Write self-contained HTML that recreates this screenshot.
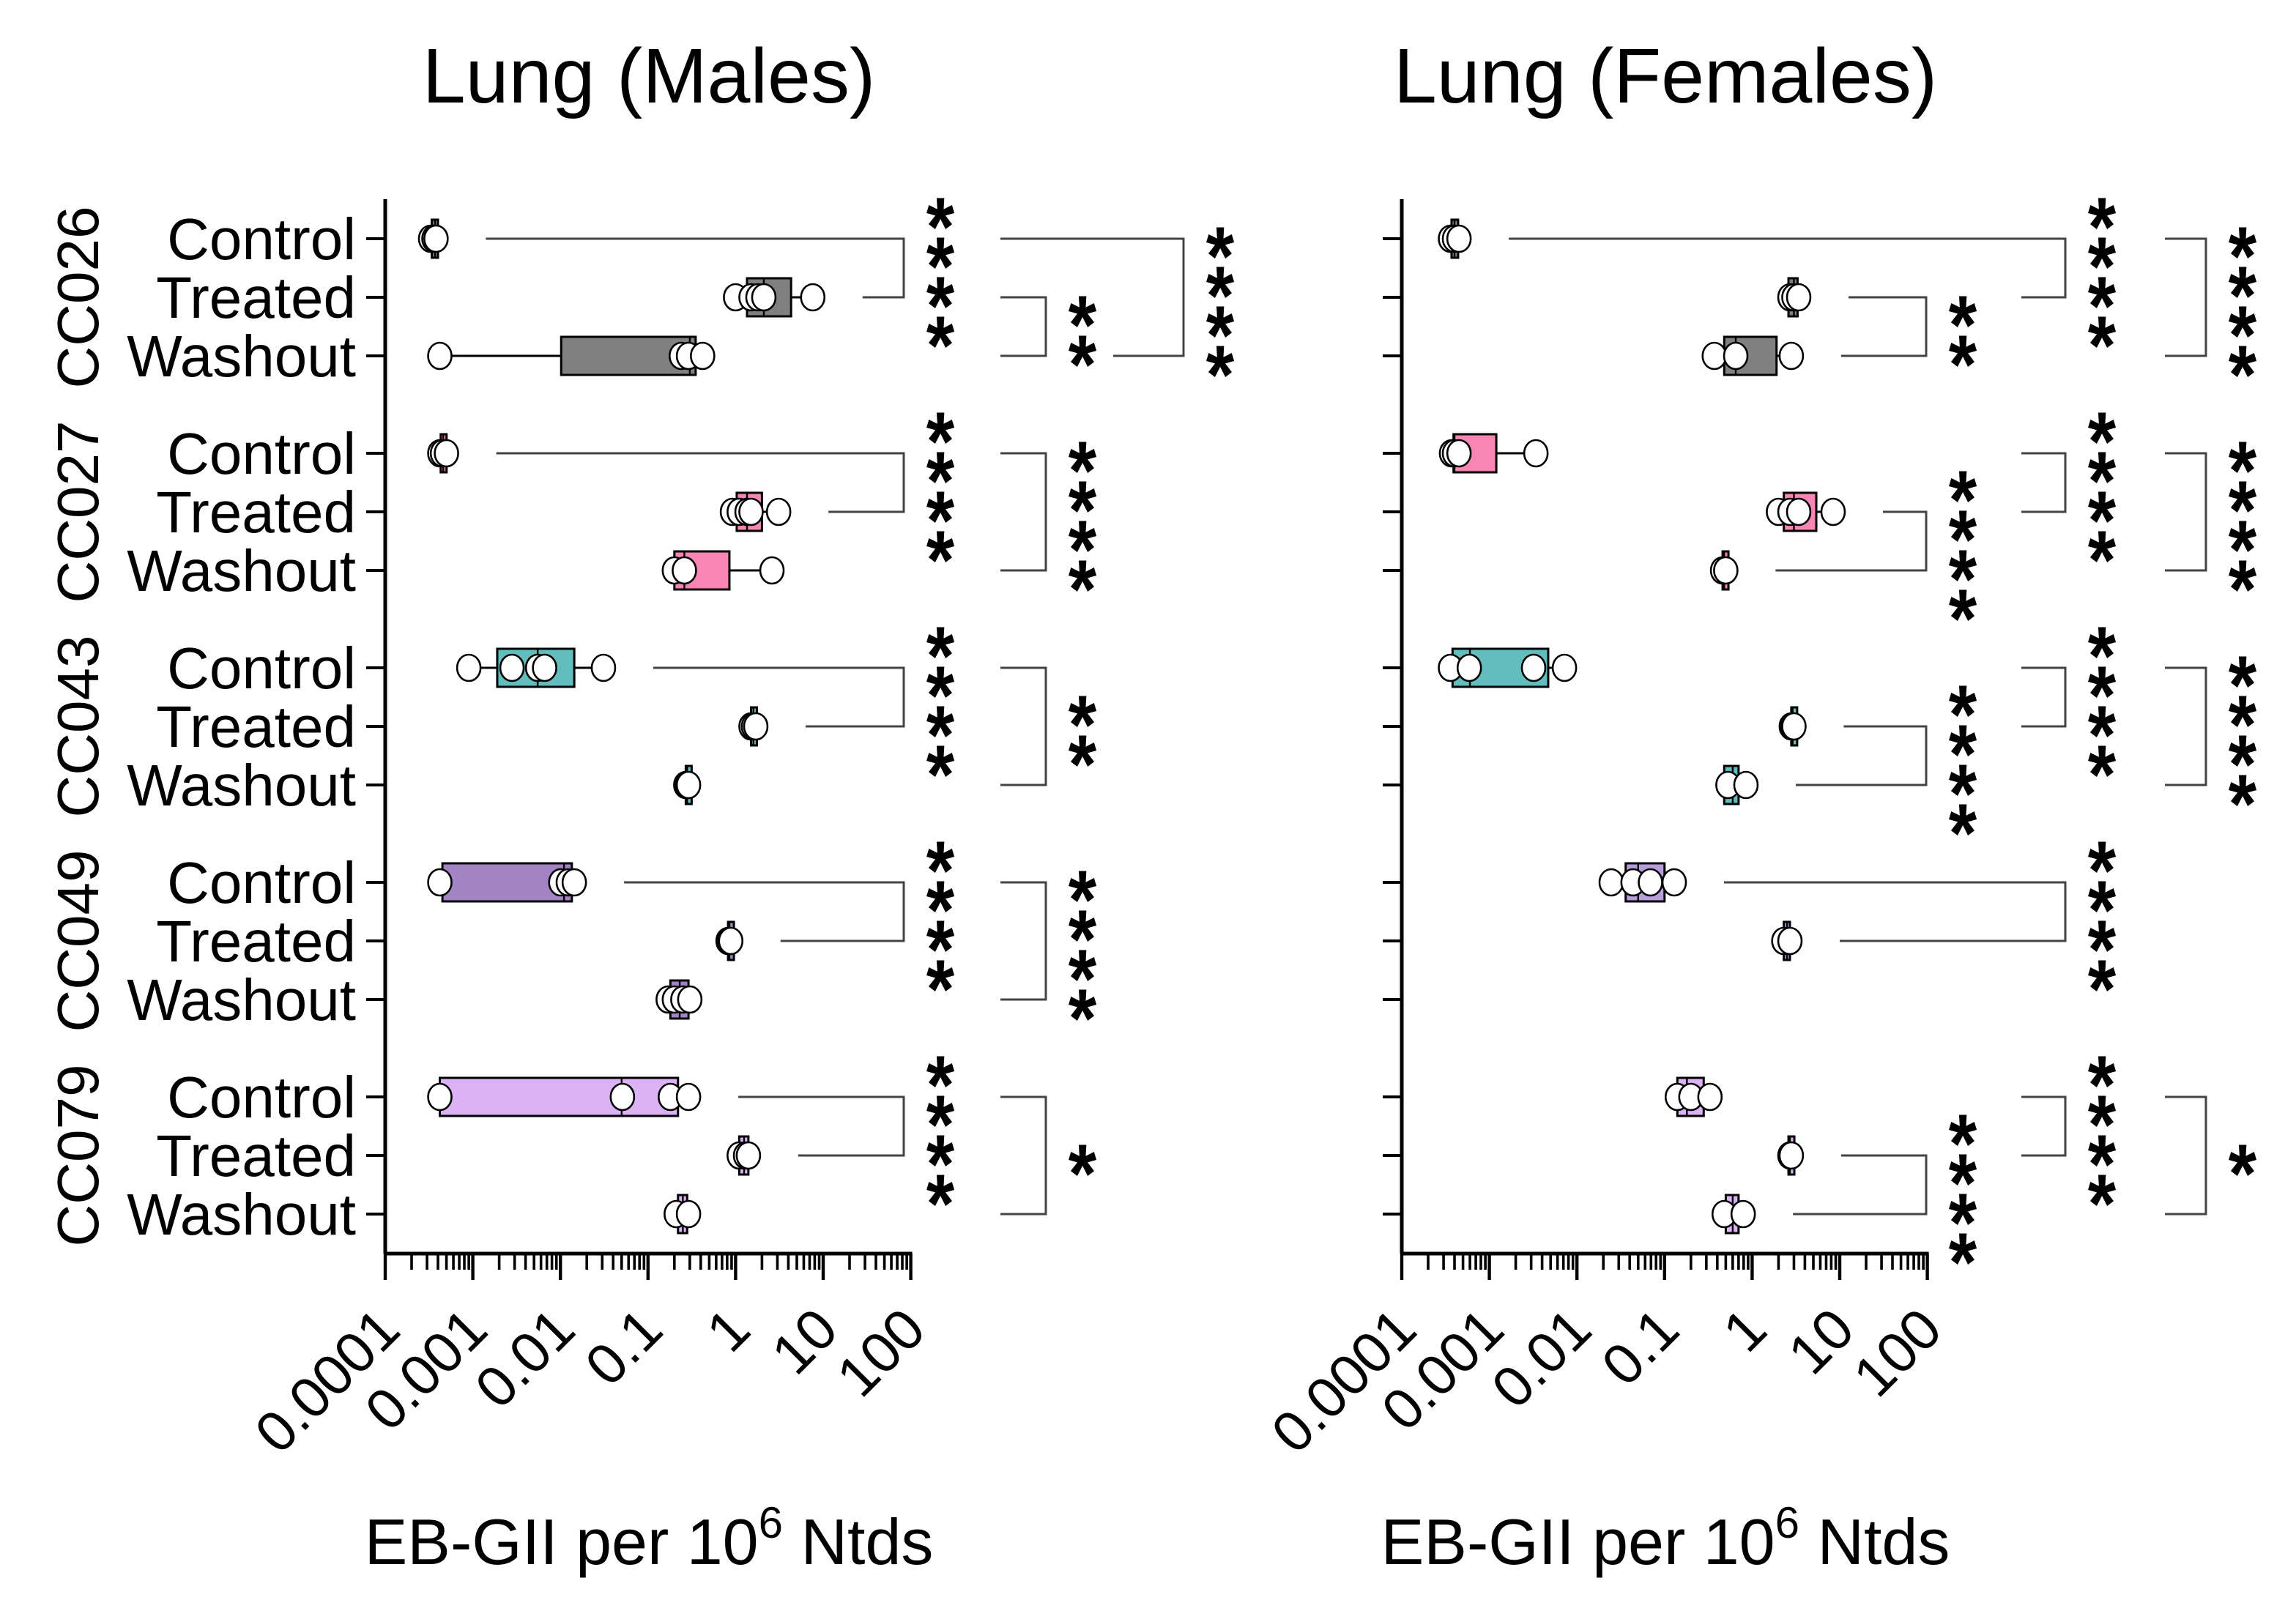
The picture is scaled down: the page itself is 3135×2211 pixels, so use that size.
<!DOCTYPE html>
<html><head><meta charset="utf-8"><style>
html,body{margin:0;padding:0;background:#fff;}
svg{display:block;font-family:"Liberation Sans",Arial,sans-serif;}
</style></head><body>
<svg id="chart" width="3135" height="2211" viewBox="0 0 1567.5 1105.5" xmlns="http://www.w3.org/2000/svg"></svg>
<script>
const groups = ["CC026","CC027","CC043","CC049","CC079"];
const conditions = ["Control","Treated","Washout"];
const tickLabels = ["0.0001","0.001","0.01","0.1","1","10","100"];
const tickValues = [0.0001,0.001,0.01,0.1,1,10,100];

// Males: points per group [Control, Treated, Washout]
const malePoints = [
  [[0.00033,0.00036,0.00038],[1.0,1.5,1.8,2.1,7.6],[0.00042,0.24,0.29,0.42]],
  [[0.00042,0.00045,0.0005],[0.92,1.1,1.35,1.5,3.1],[0.2,0.26,2.6]],
  [[0.0009,0.0028,0.0055,0.0066,0.031],[1.5,1.6,1.7],[0.27,0.28,0.29]],
  [[0.00042,0.0101,0.0123,0.0144],[0.82,0.85,0.88],[0.17,0.2,0.25,0.3]],
  [[0.00042,0.051,0.18,0.29],[1.1,1.3,1.4],[0.21,0.29]]
];
// Males: box [q1, median, q3]
const maleBoxes = [
  [[0.00034,0.00037,0.0004],[1.35,2.1,4.3],[0.0102,0.3,0.35]],
  [[0.00043,0.00046,0.00049],[1.03,1.35,2.0],[0.2,0.26,0.85]],
  [[0.0019,0.0055,0.0144],[1.5,1.6,1.7],[0.27,0.28,0.29]],
  [[0.00045,0.011,0.0135],[0.82,0.85,0.88],[0.18,0.23,0.29]],
  [[0.00042,0.05,0.22],[1.1,1.25,1.4],[0.22,0.25,0.28]]
];
const femalePoints = [
  [[0.00036,0.0004,0.00045],[2.7,3.0,3.4],[0.37,0.65,2.8]],
  [[0.00037,0.0004,0.00045,0.0034],[2.0,2.7,3.4,8.4],[0.46,0.5]],
  [[0.00036,0.00059,0.0032,0.0072],[2.8,2.9,3.0],[0.53,0.85]],
  [[0.0246,0.0437,0.069,0.129],[2.3,2.7],[]],
  [[0.14,0.2,0.33],[2.7,2.8],[0.48,0.79]]
];
const femaleBoxes = [
  [[0.00037,0.0004,0.00044],[2.6,3.0,3.3],[0.48,0.65,1.9]],
  [[0.00039,0.0004,0.0012],[2.3,3.0,5.4],[0.46,0.48,0.5]],
  [[0.00038,0.0006,0.0047],[2.8,2.9,3.0],[0.48,0.6,0.7]],
  [[0.036,0.05,0.10],[2.3,2.5,2.7],null],
  [[0.14,0.18,0.28],[2.6,2.7,2.8],[0.5,0.6,0.7]]
];
// significance: [group, condA, condB, level, stars]
const maleSig = [
  [0,0,1,0,"****"],[0,1,2,1,"**"],[0,0,2,2,"****"],
  [1,0,1,0,"****"],[1,0,2,1,"****"],
  [2,0,1,0,"****"],[2,0,2,1,"**"],
  [3,0,1,0,"****"],[3,0,2,1,"****"],
  [4,0,1,0,"****"],[4,0,2,1,"*"]
];
const femaleSig = [
  [0,0,1,1,"****"],[0,1,2,0,"**"],[0,0,2,2,"****"],
  [1,0,1,1,"****"],[1,1,2,0,"****"],[1,0,2,2,"****"],
  [2,0,1,1,"****"],[2,1,2,0,"****"],[2,0,2,2,"****"],
  [3,0,1,1,"****"],
  [4,0,1,1,"****"],[4,1,2,0,"****"],[4,0,2,2,"*"]
];

const NS = "http://www.w3.org/2000/svg";
const svg = document.getElementById("chart");
function mk(tag, attrs, parent){
  const e = document.createElementNS(NS, tag);
  for (const k in attrs) e.setAttribute(k, attrs[k]);
  (parent||svg).appendChild(e);
  return e;
}
function rowY(g,c){ return 163 + g*146.5 + c*40; }

const maleColors = ["#808080","#f985b5","#62bdbd","#a283c4","#dcb2f6"];
const femaleColors = ["#808080","#f985b5","#62bdbd","#b79ddb","#dcb2f6"];

function drawPanel(cfg){
  const x0 = cfg.x0, dec = 59.8;
  const xs = v => x0 + (Math.log10(v) + 4) * dec;
  const p = mk("g", {});
  
  

  const t = mk("text", {x: x0+180, y: 70, "font-size": 53, "text-anchor":"middle"}, p);
  t.textContent = cfg.title;
  
  

  const ya = mk("line", {x1:x0, y1:136, x2:x0, y2:856, stroke:"#000", "stroke-width":2.5}, p);
  
  
  const xa = mk("line", {x1:x0-1, y1:856, x2:xs(100)+1, y2:856, stroke:"#000", "stroke-width":2.5}, p);
  
  
  for (let i=0;i<tickValues.length;i++){
    const x = xs(tickValues[i]);
    const tk = mk("line", {x1:x, y1:856, x2:x, y2:874, stroke:"#000", "stroke-width":2.2}, p);
    
    
    if (i < tickValues.length-1){
      for (let m=2;m<=9;m++){
        const mx = xs(tickValues[i]*m);
        const mt = mk("line", {x1:mx, y1:856, x2:mx, y2:867, stroke:"#000", "stroke-width":1.8}, p);
        
        
      }
    }
    const lb = mk("text", {x:0, y:0, "font-size":39, "text-anchor":"end", transform:`translate(${x+12},${910}) rotate(-45)`}, p);
    lb.textContent = tickLabels[i];
    
    
  }
  const xt = mk("text", {x:x0+180, y:1068, "font-size":44, "text-anchor":"middle"}, p);
  xt.innerHTML = 'EB-GII per 10<tspan dy="-18" font-size="30">6</tspan><tspan dy="18"> Ntds</tspan>';
  
  

  for (let g=0; g<groups.length; g++){
    if (cfg.labels){
      const gl = mk("text", {x:0, y:0, "font-size":40, "text-anchor":"middle", transform:`translate(67,${rowY(g,1)}) rotate(-90)`}, p);
      gl.textContent = groups[g];
      
      
    }
    for (let c=0; c<3; c++){
      const y = rowY(g,c);
      const yt = mk("line", {x1:x0-13, y1:y, x2:x0, y2:y, stroke:"#000", "stroke-width":2}, p);
      
      
      if (cfg.labels){
        const rl = mk("text", {x:243, y:y+14, "font-size":40, "text-anchor":"end"}, p);
        rl.textContent = conditions[c];
        
        
      }
      const pts = cfg.points[g][c];
      const box = cfg.boxes[g][c];
      if (!pts.length || !box) continue;
      const mn = Math.min(...pts), mxv = Math.max(...pts);
      const wh = mk("line", {x1:xs(mn), y1:y, x2:xs(mxv), y2:y, stroke:"#000", "stroke-width":1.5}, p);
      
      
      const bx1 = xs(box[0]), bx2 = xs(box[2]);
      const r = mk("rect", {x:bx1, y:y-13, width:Math.max(bx2-bx1,4), height:26, fill:cfg.colors[g], stroke:"#000", "stroke-width":1.5}, p);
      
      
      const md = mk("line", {x1:xs(box[1]), y1:y-13, x2:xs(box[1]), y2:y+13, stroke:"#000", "stroke-width":1.2}, p);
      
      
      for (const v of pts){
        const pt = mk("ellipse", {cx:xs(v), cy:y, rx:8, ry:9, fill:"#fff", stroke:"#000", "stroke-width":1.3}, p);
        
        
      }
    }
  }

  for (const s of cfg.sig){
    const [g,a,b,lev,stars] = s;
    const vx = cfg.levels[lev];
    const ya1 = rowY(g,a), yb1 = rowY(g,b);
    const startFor = (cond, top) => {
      if (cfg.fixed[lev] === null || (cfg.dataDriven && cfg.dataDriven(g,a,b,lev))){
        return xs(Math.max(...cfg.points[g][cond])) + 34;
      }
      const f = cfg.fixed[lev];
      return Array.isArray(f) ? (top ? f[0] : f[1]) : f;
    };
    const sa = startFor(a, true), sb = startFor(b, false);
    const pth = mk("path", {d:`M${sa},${ya1} H${vx} V${yb1} H${sb}`, fill:"none", stroke:"#444", "stroke-width":1.5}, p);
    
    
    const mid = (ya1+yb1)/2, n = stars.length, sp = 27;
    for (let k=0;k<n;k++){
      const cy = mid + (k-(n-1)/2)*sp;
      const st = mk("text", {x:0, y:29, "font-size":52, "font-weight":"bold", "text-anchor":"middle", transform:`translate(${vx+25},${cy}) scale(0.95,1.1)`}, p);
      st.textContent = "*";
      
      
    }
  }
}

drawPanel({name:"males-panel", title:"Lung (Males)", x0:263, labels:true,
  points:malePoints, boxes:maleBoxes, colors:maleColors, sig:maleSig,
  levels:[617,714,808], fixed:[null,683,[683,760]]});
drawPanel({name:"females-panel", title:"Lung (Females)", x0:957, labels:false,
  points:femalePoints, boxes:femaleBoxes, colors:femaleColors, sig:femaleSig,
  levels:[1315,1410,1506], fixed:[null,1380,1478],
  dataDriven:(g,a,b,lev)=> lev===1 && g===3});
(function(){
  const x0 = 957, dec = 59.8;
  const xs = v => x0 + (Math.log10(v) + 4) * dec;
  const y = rowY(0,0);
  const ln = mk("line", {x1:xs(Math.max(...femalePoints[0][0]))+34, y1:y, x2:1380, y2:y, stroke:"#444", "stroke-width":1.5});
  
  
})();
</script>
</body></html>
